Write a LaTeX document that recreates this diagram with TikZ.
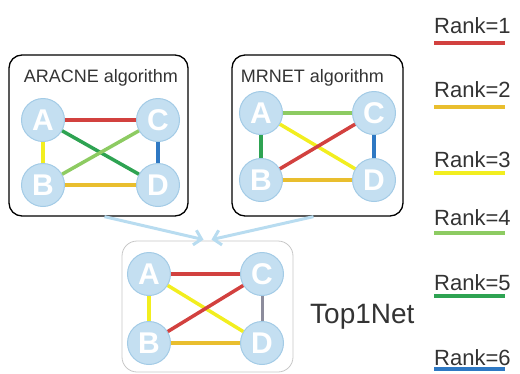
\documentclass[tikz,border=0pt]{standalone}
\usepackage{fontspec}
\setmainfont{Liberation Sans}
\usepackage{xcolor}
\usepackage{tikz}
\usetikzlibrary{arrows.meta}

\definecolor{rankred}{HTML}{D2413F}
\definecolor{rankgold}{HTML}{E9BE2E}
\definecolor{rankyellow}{HTML}{F2EE1F}
\definecolor{ranklight}{HTML}{8DCB62}
\definecolor{rankgreen}{HTML}{2EA352}
\definecolor{rankblue}{HTML}{2E78C3}
\definecolor{rankgray}{HTML}{8C8C9C}
\definecolor{genefill}{HTML}{C4DFF1}
\definecolor{genedraw}{HTML}{A3CBE6}
\definecolor{flowblue}{HTML}{B8DCF0}
\definecolor{labeltext}{HTML}{333333}

\begin{document}
\begin{tikzpicture}[
    x=1pt, y=-1pt,
    algbox/.style={rectangle, draw=black, line width=1.3pt, rounded corners=13pt, inner sep=0pt},
    netbox/.style={rectangle, draw=black!22, line width=0.8pt, rounded corners=15pt, inner sep=0pt},
    title/.style={anchor=base, text=labeltext, font=\fontsize{18}{18}\selectfont},
    gene/.style={circle, draw=genedraw, line width=1pt, fill=genefill, minimum size=43pt, inner sep=0pt, text=white, font=\fontsize{30}{30}\selectfont\bfseries},
    legend/.style={anchor=base west, inner sep=0pt, text=labeltext, font=\fontsize{22}{22}\selectfont},
    rank1/.style={draw=rankred, line width=3.5pt},
    rank2/.style={draw=rankgold, line width=3.5pt},
    rank3/.style={draw=rankyellow, line width=3.5pt},
    rank4/.style={draw=ranklight, line width=3.5pt},
    rank5/.style={draw=rankgreen, line width=3.5pt},
    rank6/.style={draw=rankblue, line width=3.5pt},
    arrow/.style={draw=flowblue, line width=3pt, -{Straight Barb[length=7pt, width=15pt]}}
]
\useasboundingbox (0,0) rectangle (520,373);

% Algorithm boxes
\node[algbox, minimum width=179pt, minimum height=161pt] (aracne) at (98.5,135.5) {};
\node[algbox, minimum width=171pt, minimum height=161pt] (mrnet) at (317.5,135.5) {};
\node[title] (aracne_title) at (101,82) {ARACNE algorithm};
\node[title] (mrnet_title) at (312.5,82) {MRNET algorithm};

% Result box
\node[netbox, minimum width=171pt, minimum height=131pt] (top1) at (207.5,306.5) {};
\node[anchor=base west, inner sep=0pt, text=labeltext, font=\fontsize{28}{28}\selectfont] (top1_label) at (310,323) {Top1Net};

% ARACNE network
\node[gene] (aA) at (43,120) {A};
\node[gene] (aC) at (158,120) {C};
\node[gene] (aB) at (43,185) {B};
\node[gene] (aD) at (158,185) {D};
\draw[rank1] (aA) -- (aC);
\draw[rank5] (aA) -- (aD);
\draw[rank4] (aB) -- (aC);
\draw[rank3] (aA) -- (aB);
\draw[rank2] (aB) -- (aD);
\draw[rank6] (aC) -- (aD);

% MRNET network
\node[gene] (mA) at (261,113) {A};
\node[gene] (mC) at (374,113) {C};
\node[gene] (mB) at (261,180) {B};
\node[gene] (mD) at (374,180) {D};
\draw[rank4] (mA) -- (mC);
\draw[rank3] (mA) -- (mD);
\draw[rank1] (mB) -- (mC);
\draw[rank5] (mA) -- (mB);
\draw[rank2] (mB) -- (mD);
\draw[rank6] (mC) -- (mD);

% Top1Net network
\node[gene] (tA) at (149,274) {A};
\node[gene] (tC) at (262,274) {C};
\node[gene] (tB) at (149,343) {B};
\node[gene] (tD) at (262,343) {D};
\draw[rank1] (tA) -- (tC);
\draw[rank3] (tA) -- (tD);
\draw[rank1] (tB) -- (tC);
\draw[rank3] (tA) -- (tB);
\draw[rank2] (tB) -- (tD);
\draw[draw=rankgray, line width=3pt] (tC) -- (tD);

% Merge arrows
\draw[arrow] ([xshift=6pt]aracne.south) -- ([xshift=-4pt, yshift=1pt]top1.north);
\draw[arrow] ([xshift=-4pt]mrnet.south) -- ([xshift=4pt, yshift=1pt]top1.north);

% Legend
\node[legend] (rank1_label) at (434,33) {Rank=1};
\node[legend] (rank2_label) at (434,97) {Rank=2};
\node[legend] (rank3_label) at (434,167) {Rank=3};
\node[legend] (rank4_label) at (434,225) {Rank=4};
\node[legend] (rank5_label) at (434,290) {Rank=5};
\node[legend] (rank6_label) at (434,365) {Rank=6};
\draw[rank1] (434,43) -- (505,43);
\draw[rank2] (434,107) -- (505,107);
\draw[rank3] (434,173) -- (505,173);
\draw[rank4] (434,233) -- (505,233);
\draw[rank5] (434,296) -- (505,296);
\draw[rank6] (434,369) -- (505,369);

\end{tikzpicture}
\end{document}
